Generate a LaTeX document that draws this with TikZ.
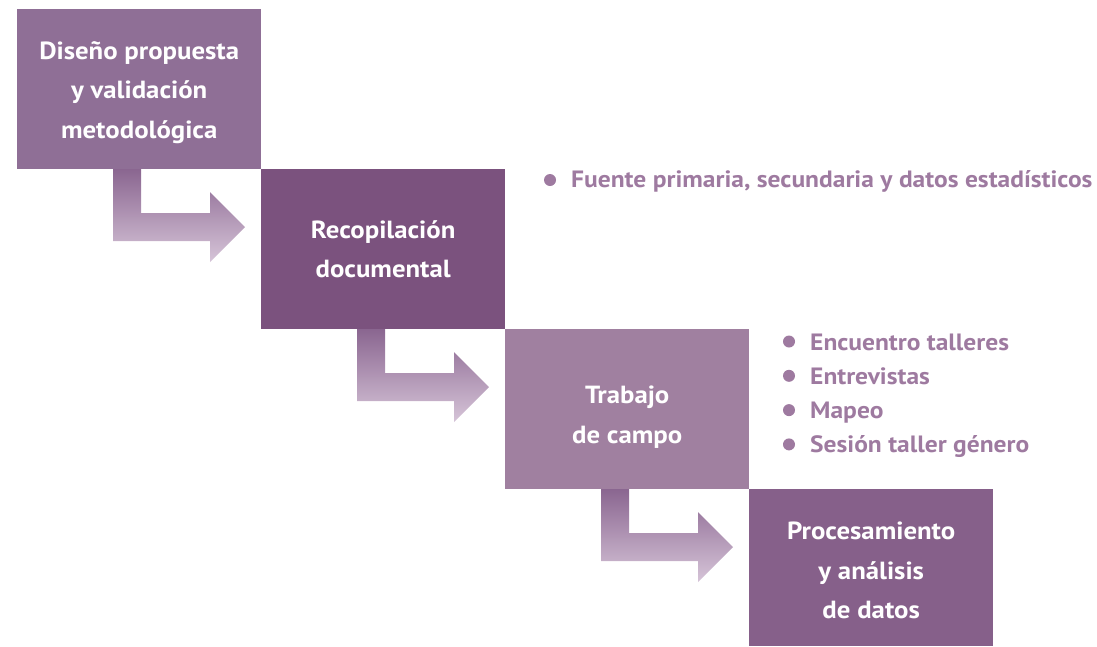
\documentclass[tikz,border=0pt]{standalone}
\usepackage{fontspec}
\setmainfont{PT Sans}
\newfontfamily\diagfont[FakeStretch=1.08]{PT Sans}
\begin{document}
\begin{tikzpicture}[x=1pt,y=-1pt,
  stepbox/.style={anchor=north west,inner sep=0pt,minimum width=244pt,minimum height=160pt},
  steptxt/.style={inner sep=0pt,text=white,font=\diagfont\bfseries\fontsize{24.8}{39.5}\selectfont,align=center},
  listtxt/.style={anchor=base west,inner sep=0pt,text=listcol,font=\diagfont\bfseries\fontsize{23.6}{28}\selectfont},
  bullet/.style={circle,fill=listcol,inner sep=0pt,minimum size=12pt},
  flowarrow/.style={top color=arrtop,bottom color=arrbot,draw=none}]
\definecolor{boxA}{RGB}{143,111,150}
\definecolor{boxB}{RGB}{123,82,126}
\definecolor{boxC}{RGB}{160,128,160}
\definecolor{boxD}{RGB}{134,96,138}
\definecolor{listcol}{RGB}{158,122,160}
\definecolor{arrtop}{RGB}{138,102,144}
\definecolor{arrbot}{RGB}{214,196,216}
\useasboundingbox (0,0) rectangle (1097,646);
% arrows
\foreach \dx/\dy in {0/0,244/160,488/320}{
  \shade[flowarrow] (113+\dx,169+\dy) -- (141+\dx,169+\dy) -- (141+\dx,213+\dy) -- (210+\dx,213+\dy) -- (210+\dx,192+\dy) -- (245+\dx,227+\dy) -- (210+\dx,262+\dy) -- (210+\dx,241+\dy) -- (113+\dx,241+\dy) -- cycle;
}
% boxes
\node[stepbox,fill=boxA] (b1) at (17,9) {};
\node[stepbox,fill=boxB] (b2) at (261,169) {};
\node[stepbox,fill=boxC] (b3) at (505,329) {};
\node[stepbox,fill=boxD,minimum height=157pt] (b4) at (749,489) {};
\node[steptxt] (l1) at ([yshift=-3pt]b1.center) {Diseño propuesta\\y validación\\metodológica};
\node[steptxt] (l2) at (b2.center) {Recopilación\\documental};
\node[steptxt] (l3) at ([yshift=-8pt]b3.center) {Trabajo\\de campo};
\node[steptxt] (l4) at ([yshift=-3pt]b4.center) {Procesamiento\\y análisis\\de datos};
% lists
\node[bullet] (p1) at (550,180) {};
\node[listtxt] (t1) at (571,187) {Fuente primaria, secundaria y datos estadísticos};
\node[bullet] (q1) at (789,341.5) {};
\node[listtxt] (u1) at (810,350) {Encuentro talleres};
\node[bullet] (q2) at (789,375.8) {};
\node[listtxt] (u2) at (810,384.3) {Entrevistas};
\node[bullet] (q3) at (789,410.1) {};
\node[listtxt] (u3) at (810,418.6) {Mapeo};
\node[bullet] (q4) at (789,444.4) {};
\node[listtxt] (u4) at (810,452.9) {Sesión taller género};
\end{tikzpicture}
\end{document}
